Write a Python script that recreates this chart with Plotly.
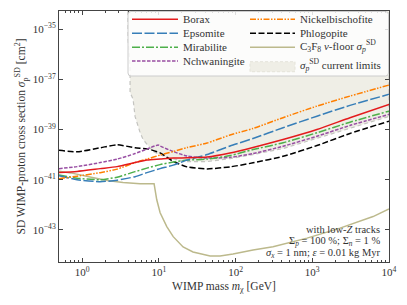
import plotly.graph_objects as go

# ---------------- data ----------------
# common mass grid [GeV]
mass = [0.5, 0.86, 1.72, 2.86, 4.9, 7.0, 10.4, 15.4, 23.3, 42.6, 84.7, 169, 416, 1150, 3100, 10000]

# log10 of sigma_p^SD [cm^2]
borax_log = [-40.71, -40.67, -40.56, -40.48, -40.32, -40.22, -40.18, -40.14, -40.13, -40.10,
             -39.94, -39.72, -39.40, -39.00, -38.53, -38.00]
epsomite_log = [-40.84, -41.00, -41.08, -41.02, -40.88, -40.72, -40.56, -40.42, -40.22, -40.00,
                -39.66, -39.36, -38.93, -38.47, -38.04, -37.60]
mirabilite_log = [-40.81, -40.94, -41.00, -40.90, -40.68, -40.54, -40.40, -40.30, -40.22, -40.18,
                  -40.04, -39.80, -39.53, -39.13, -38.71, -38.27]
nickel_log = [-40.96, -40.86, -40.72, -40.58, -40.32, -40.18, -40.02, -39.88, -39.72, -39.54,
              -39.22, -38.96, -38.53, -38.07, -37.67, -37.23]
phlog_log = [-39.83, -39.89, -39.73, -39.61, -39.73, -39.77, -39.93, -40.27, -40.49, -40.57,
             -40.49, -40.33, -40.07, -39.64, -39.16, -38.67]

nchw_mass = [0.5, 0.86, 1.72, 2.86, 4.9, 7.0, 9.8, 10.4, 15.4, 23.3, 42.6, 84.7, 169, 416, 1150, 3100, 10000]
nchw_log = [-40.56, -40.48, -40.32, -40.18, -39.96, -39.78, -39.62, -39.66, -39.88, -40.06, -40.14,
            -40.11, -39.96, -39.67, -39.27, -38.84, -38.40]

floor_mass = [0.5, 0.71, 1.27, 2.12, 3.42, 5.7, 8.67, 8.93, 9.4, 10.4, 12.7, 15.4, 20.7, 27.9,
              46.6, 62.8, 92.7, 169, 308, 855, 2300, 6200, 10000]
floor_log = [-40.66, -40.73, -40.89, -41.03, -41.11, -41.16, -41.16, -41.40, -41.80, -42.32, -42.87,
             -43.27, -43.68, -43.88, -44.04, -44.04, -43.96, -43.80, -43.67, -43.33, -42.93,
             -42.47, -42.17]

limit_mass = [3.95, 3.97, 4.22, 4.22, 4.62, 4.9, 5.7, 6.24, 8.41, 12.8, 23.3, 42.6, 84.7, 169,
              416, 1150, 3100, 10000, 10000]
limit_log = [-34.0, -35.4, -36.48, -37.52, -37.8, -38.48, -39.12, -39.4, -39.88, -40.12, -40.28,
             -40.28, -40.16, -40.0, -39.76, -39.36, -38.94, -38.48, -34.0]

x_tick_vals = [1, 10, 100, 1000, 10000]
x_tick_text = ["10<sup>0</sup>", "10<sup>1</sup>", "10<sup>2</sup>", "10<sup>3</sup>", "10<sup>4</sup>"]
y_tick_vals = [1e-43, 1e-41, 1e-39, 1e-37, 1e-35]
y_tick_text = ["10<sup>\u221243</sup>", "10<sup>\u221241</sup>", "10<sup>\u221239</sup>",
               "10<sup>\u221237</sup>", "10<sup>\u221235</sup>"]

# ---------------- figure ----------------
FONT = "Liberation Serif"
TXT = "#333333"
W, H = 407, 305
L, R, T, B = 59, 18, 11, 43
PW, PH = W - L - R, H - T - B


def tolin(vals):
    return [10 ** v for v in vals]


def px(x):
    return (x - L) / PW


def py(y):
    return 1 - (y - T) / PH


fig = go.Figure()

LIMIT_FILL = "#efeee6"
LIMIT_LINE = dict(color="#c4c4c0", width=1.2, dash="4px,3px")
FLOOR_LINE = dict(color="#bcb98c", width=1.5)

fig.add_trace(go.Scatter(
    x=limit_mass, y=tolin(limit_log), mode="lines", fill="toself",
    fillcolor=LIMIT_FILL, line=LIMIT_LINE, showlegend=False))

fig.add_trace(go.Scatter(
    x=floor_mass, y=tolin(floor_log), mode="lines", line=FLOOR_LINE, showlegend=False))

styles = {
    "Borax": ("#e41a1c", "solid"),
    "Epsomite": ("#377eb8", "10px,2.5px"),
    "Mirabilite": ("#4daf4a", "8px,2px,2px,2px"),
    "Nchwaningite": ("#984ea3", "3.5px,1.5px"),
    "Nickelbischofite": ("#ff7f00", "6px,1.5px,1.5px,1.5px,1.5px,1.5px"),
    "Phlogopite": ("#000000", "6px,2.5px"),
}
series = [
    ("Phlogopite", mass, phlog_log),
    ("Nchwaningite", nchw_mass, nchw_log),
    ("Mirabilite", mass, mirabilite_log),
    ("Epsomite", mass, epsomite_log),
    ("Nickelbischofite", mass, nickel_log),
    ("Borax", mass, borax_log),
]
for name, xm, yl in series:
    col, dash = styles[name]
    fig.add_trace(go.Scatter(
        x=xm, y=tolin(yl), mode="lines", name=name, showlegend=False,
        line=dict(color=col, width=1.5, dash=dash, shape="spline", smoothing=0.6)))

minor_x = []
for k in range(-1, 4):
    for d in range(2, 10):
        v = d * 10 ** k
        if 0.5 <= v <= 10000:
            minor_x.append(v)

axis_common = dict(showline=True, linecolor="#444444", linewidth=1, mirror="ticks",
                   ticks="inside", ticklen=4, tickcolor="#444444", showgrid=False,
                   zeroline=False, automargin=False,
                   tickfont=dict(family=FONT, size=11, color=TXT))

fig.update_xaxes(type="log", range=[-0.30103, 4], tickmode="array",
                 tickvals=x_tick_vals, ticktext=x_tick_text,
                 minor=dict(ticks="inside", ticklen=2, tickcolor="#444444",
                            tickmode="array", tickvals=minor_x, showgrid=False),
                 title=dict(text="WIMP mass <i>m</i><sub>χ</sub> [GeV]",
                            font=dict(family=FONT, size=11.5, color=TXT), standoff=4),
                 **axis_common)
fig.update_yaxes(type="log", range=[-44.28, -34.28], tickmode="array",
                 tickvals=y_tick_vals, ticktext=y_tick_text,
                 title=dict(text="SD WIMP-proton cross section <i>σ</i><sub>p</sub><sup>SD</sup> [cm<sup>2</sup>]",
                            font=dict(family=FONT, size=11.5, color=TXT), standoff=4),
                 **axis_common)

# ---------------- legend (drawn as a box with sample lines) ----------------
shapes = []
bx0, bx1, by0, by1, r = 128, 388.5, 11.5, 76, 3
rx, ry = r / PW, r / PH
X0, X1, Y0, Y1 = px(bx0), px(bx1), py(by0), py(by1)
path = (f"M{X0+rx},{Y0} L{X1-rx},{Y0} Q{X1},{Y0} {X1},{Y0-ry} L{X1},{Y1+ry} "
        f"Q{X1},{Y1} {X1-rx},{Y1} L{X0+rx},{Y1} Q{X0},{Y1} {X0},{Y1+ry} "
        f"L{X0},{Y0-ry} Q{X0},{Y0} {X0+rx},{Y0} Z")
shapes.append(dict(type="path", xref="paper", yref="paper", path=path,
                   fillcolor="rgba(255,255,255,0.82)", line=dict(color="#cccccc", width=1)))

leg_font = dict(family=FONT, size=11, color=TXT)
col1 = (132, 178, 181)
col2 = (250, 295, 298)
rows = [19.3, 33.3, 47.3, 61.0]
line_entries = [
    (col1, rows[0], "Borax"), (col1, rows[1], "Epsomite"),
    (col1, rows[2], "Mirabilite"), (col1, rows[3], "Nchwaningite"),
    (col2, rows[0], "Nickelbischofite"), (col2, rows[1], "Phlogopite"),
]
annotations = []
for (sx0, sx1, tx), ry_, name in line_entries:
    col, dash = styles[name]
    shapes.append(dict(type="line", xref="paper", yref="paper", x0=px(sx0), x1=px(sx1),
                       y0=py(ry_), y1=py(ry_), line=dict(color=col, width=1.5, dash=dash)))
    annotations.append(dict(xref="paper", yref="paper", x=px(tx), y=py(ry_), xanchor="left",
                            yanchor="middle", text=name, showarrow=False, font=leg_font))
# floor entry
shapes.append(dict(type="line", xref="paper", yref="paper", x0=px(col2[0]), x1=px(col2[1]),
                   y0=py(rows[2]), y1=py(rows[2]), line=FLOOR_LINE))
annotations.append(dict(xref="paper", yref="paper", x=px(col2[2]), y=py(rows[2] - 1),
                        xanchor="left", yanchor="middle", showarrow=False, font=leg_font,
                        text="C<sub>3</sub>F<sub>8</sub> <i>ν</i>-floor <i>σ</i><sub><i>p</i></sub><sup>SD</sup>"))
# limits entry
shapes.append(dict(type="rect", xref="paper", yref="paper", x0=px(col2[0]), x1=px(col2[1]),
                   y0=py(61.7), y1=py(71.7), fillcolor=LIMIT_FILL,
                   line=dict(color="#e4e3da", width=1, dash="3px,2px")))
annotations.append(dict(xref="paper", yref="paper", x=px(col2[2]), y=py(65.0),
                        xanchor="left", yanchor="middle", showarrow=False, font=leg_font,
                        text="<i>σ</i><sub><i>p</i></sub><sup>SD</sup> current limits"))

ann_font = dict(family=FONT, size=10.5, color=TXT)
for txt, yy in [("with low-<i>Z</i> tracks", 229),
                ("Σ<sub><i>p</i></sub> = 100 %; Σ<sub><i>n</i></sub> = 1 %", 241),
                ("<i>σ</i><sub><i>x</i></sub> = 1 nm; <i>ε</i> = 0.01 kg Myr", 253)]:
    annotations.append(dict(xref="paper", yref="paper", x=px(382), y=py(yy),
                            xanchor="right", yanchor="middle", text=txt, showarrow=False,
                            font=ann_font))

fig.update_layout(
    width=W, height=H,
    margin=dict(l=L, r=R, t=T, b=B),
    paper_bgcolor="white", plot_bgcolor="white",
    font=dict(family=FONT, size=11, color=TXT),
    showlegend=False,
    hovermode=False,
    shapes=shapes,
    annotations=annotations,
)

fig.write_html("out.html", config={"displayModeBar": False, "staticPlot": True},
               post_script="document.body.style.margin='0px';document.body.style.overflow='hidden';")
